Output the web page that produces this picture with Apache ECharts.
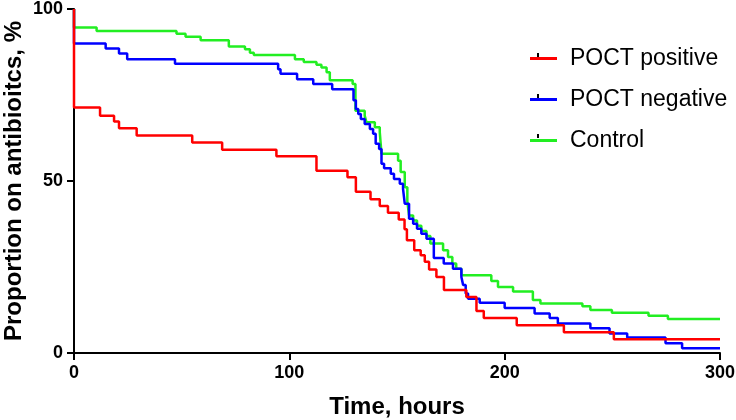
<!DOCTYPE html>
<html>
<head>
<meta charset="utf-8">
<script src="https://cdn.jsdelivr.net/npm/echarts@6/dist/echarts.min.js"></script>
<style>html,body{margin:0;padding:0;background:#fff}#c{width:736px;height:420px}</style>
</head>
<body>
<div id="c"></div>
<script>
var xTicks = [0, 100, 200, 300];
var yTicks = [0, 50, 100];
var seriesNames = ['POCT positive', 'POCT negative', 'Control'];

var pocPositive = [[0,100],[0,71.4],[12.1,69.0],[18.6,67.3],[20.9,65.3],[29.1,63.2],[54.9,61.2],[68.8,59.1],[94.0,57.2],[112.6,53.0],[127.0,51.1],[130.9,46.9],[137.7,44.7],[142.0,42.7],[145.8,40.8],[150.8,38.8],[153.5,36.0],[154.6,32.8],[158.0,29.9],[161.0,28.4],[162.9,26.5],[164.9,24.3],[168.3,22.1],[171.8,18.3],[182.2,16.3],[186.9,12.2],[190.3,10.2],[205.6,8.1],[227.5,6.0],[250.7,4.0],[300,4.0]];

var pocNegative = [[0,100],[0,90.0],[14.7,88.5],[20.9,87.1],[24.7,85.4],[46.9,84.1],[94.8,82.5],[95.9,81.2],[103.6,79.6],[111.1,78.2],[119.9,76.7],[129.8,73.5],[130.9,70.9],[132.0,69.5],[133.2,68.0],[135.0,66.6],[137.4,65.1],[138.9,63.7],[140.1,60.8],[141.7,59.3],[142.8,55.0],[144.0,53.7],[147.1,52.1],[148.6,50.6],[151.3,49.2],[152.8,47.7],[153.6,43.4],[155.6,39.0],[157.5,37.6],[159.3,36.1],[161.3,34.7],[163.7,33.2],[167.1,27.6],[171.7,26.0],[176.0,24.5],[179.9,22.1],[180.7,19.8],[181.9,17.3],[183.0,15.8],[188.4,14.6],[200.0,13.1],[213.9,11.5],[220.9,10.2],[224.7,8.6],[239.8,7.2],[248.7,5.7],[256.9,4.5],[274.7,2.8],[282.4,1.4],[300,1.4]];

var control = [[0,100],[0,94.6],[10.5,93.6],[47.6,92.8],[51.8,91.9],[58.8,90.9],[71.9,89.1],[79.4,88.3],[81.7,87.3],[83.5,86.6],[102.6,85.4],[106.7,84.6],[112.6,83.8],[114.9,83.0],[117.3,81.6],[118.8,79.3],[129.4,78.2],[130.7,70.4],[135.0,69.0],[135.8,67.1],[139.7,65.6],[142.0,64.2],[142.8,57.9],[150.5,55.9],[151.7,52.6],[153.6,48.2],[154.8,44.0],[155.6,40.0],[157.5,38.5],[159.3,37.0],[161.3,35.5],[163.7,34.0],[165.5,31.8],[171.4,29.9],[173.7,27.9],[175.7,26.0],[177.5,24.5],[179.9,22.6],[193.8,20.9],[196.9,19.2],[203.9,17.9],[213.1,15.4],[216.6,14.4],[236.1,13.6],[239.8,12.5],[249.8,11.7],[266.8,10.8],[275.8,9.9],[300,9.9]];

var colors = ['#ff0000', '#0000ff', '#22ee22'];
var font = 'Liberation Sans, Arial, Helvetica, sans-serif';

var chart = echarts.init(document.getElementById('c'), null, {renderer: 'canvas'});

function mk(name, data, color, z) {
  return {
    name: name, type: 'line', step: 'end', data: data,
    showSymbol: false, symbol: 'none', clip: false, z: z,
    lineStyle: {color: color, width: 2.5},
    itemStyle: {color: color},
    emphasis: {disabled: true},
    animation: false
  };
}

var legendRows = [57, 98, 138];

chart.setOption({
  animation: false,
  backgroundColor: '#fff',
  grid: {left: 74, right: 16, top: 9, bottom: 67, containLabel: false, outerBoundsMode: 'none'},
  legend: {
    data: seriesNames,
    orient: 'vertical',
    left: 525, top: 42,
    itemWidth: 27, itemHeight: 3, itemGap: 18,
    icon: 'rect',
    textStyle: {fontFamily: font, fontSize: 23, color: '#000', padding: [0,0,0,8]},
    selectedMode: false
  },
  xAxis: {
    type: 'value', min: 0, max: 300, interval: 100,
    name: 'Time, hours', nameLocation: 'middle', nameGap: 42, nameMoveOverlap: false,
    nameTextStyle: {fontFamily: font, fontSize: 24, fontWeight: 'bold', color: '#000'},
    axisLine: {lineStyle: {color: '#000', width: 2}},
    axisTick: {show: true, length: 7, lineStyle: {color: '#000', width: 2}},
    axisLabel: {fontFamily: font, fontSize: 18, fontWeight: 'bold', color: '#000', margin: 11,
      formatter: function (v) { return xTicks.indexOf(v) >= 0 ? String(v) : ''; }},
    splitLine: {show: false}
  },
  yAxis: {
    type: 'value', min: 0, max: 100, interval: 50,
    name: 'Proportion on antibioitcs, %', nameLocation: 'middle', nameGap: 48, nameRotate: 90,
    nameMoveOverlap: false,
    nameTextStyle: {fontFamily: font, fontSize: 24, fontWeight: 'bold', color: '#000'},
    axisLine: {show: true, lineStyle: {color: '#000', width: 2}},
    axisTick: {show: true, length: 7, lineStyle: {color: '#000', width: 2}},
    axisLabel: {fontFamily: font, fontSize: 18, fontWeight: 'bold', color: '#000', margin: 11,
      formatter: function (v) { return yTicks.indexOf(v) >= 0 ? String(v) : ''; }},
    splitLine: {show: false}
  },
  graphic: legendRows.map(function (y) {
    return {type: 'rect', shape: {x: 537, y: y - 4, width: 2, height: 4}, style: {fill: '#000'}, z: 100};
  }),
  series: [
    mk('Control', control, colors[2], 2),
    mk('POCT negative', pocNegative, colors[1], 3),
    mk('POCT positive', pocPositive, colors[0], 4)
  ]
});
</script>
</body>
</html>
